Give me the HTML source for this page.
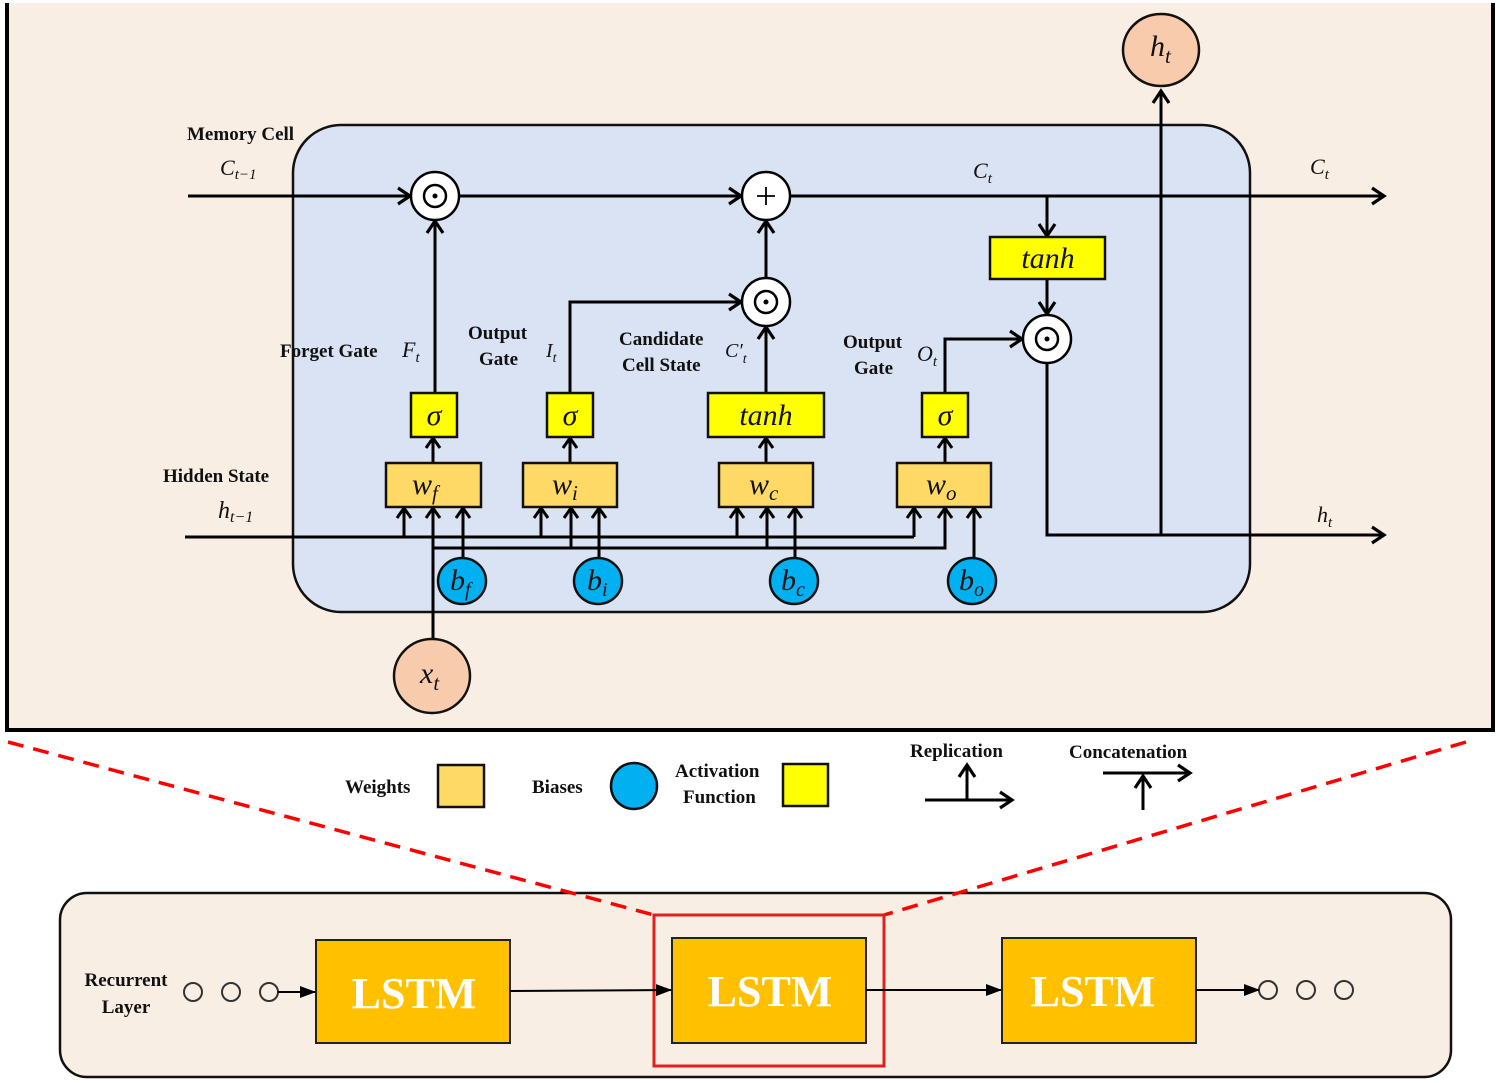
<!DOCTYPE html>
<html><head><meta charset="utf-8"><style>
html,body{margin:0;padding:0;background:#fff;}
svg{display:block;}
.b{font-family:"Liberation Serif",serif;font-weight:bold;font-size:19px;fill:#111;}
.m{font-family:"Liberation Serif",serif;font-style:italic;fill:#111;}
</style></head><body>
<svg width="1500" height="1083" viewBox="0 0 1500 1083" xmlns="http://www.w3.org/2000/svg">
<defs>
<marker id="a" markerWidth="18" markerHeight="20" refX="14" refY="10" orient="auto" markerUnits="userSpaceOnUse">
<path d="M2,2 L14,10 L2,18" fill="none" stroke="#000" stroke-width="3.2"/></marker>
<marker id="s" markerWidth="16" markerHeight="18" refX="12" refY="9" orient="auto" markerUnits="userSpaceOnUse">
<path d="M2,2 L12,9 L2,16" fill="none" stroke="#000" stroke-width="3"/></marker>
<marker id="f" markerWidth="16" markerHeight="14" refX="15" refY="7" orient="auto" markerUnits="userSpaceOnUse">
<path d="M0,1 L16,7 L0,13 Z" fill="#000"/></marker>
</defs>
<rect width="1500" height="1083" fill="#fff"/>
<!-- top panel -->
<rect x="7" y="3" width="1486" height="727" fill="#f9eee4"/>
<path d="M7,3 V730 H1493 V3" fill="none" stroke="#000" stroke-width="4"/>
<rect x="293" y="125" width="957" height="487" rx="48" fill="#dae3f3" stroke="#111" stroke-width="2.5"/>

<g stroke="#000" stroke-width="3" fill="none">
<line x1="188" y1="196" x2="410" y2="196" marker-end="url(#a)"/>
<line x1="459" y1="196" x2="741" y2="196" marker-end="url(#a)"/>
<line x1="790" y1="196" x2="1384" y2="196" marker-end="url(#a)"/>
<line x1="1047" y1="196" x2="1047" y2="236" marker-end="url(#a)"/>
<line x1="1047" y1="279" x2="1047" y2="314" marker-end="url(#a)"/>
<polyline points="1047,363 1047,535 1384,535" marker-end="url(#a)"/>
<line x1="1161" y1="535" x2="1161" y2="91" marker-end="url(#a)"/>
<line x1="435" y1="393" x2="435" y2="221" marker-end="url(#a)"/>
<polyline points="570,393 570,302 741,302" marker-end="url(#a)"/>
<line x1="766" y1="393" x2="766" y2="327" marker-end="url(#a)"/>
<line x1="766" y1="278" x2="766" y2="221" marker-end="url(#a)"/>
<polyline points="945,393 945,339 1022,339" marker-end="url(#a)"/>
<line x1="433" y1="463" x2="433" y2="438" marker-end="url(#s)"/>
<line x1="570" y1="463" x2="570" y2="438" marker-end="url(#s)"/>
<line x1="766" y1="463" x2="766" y2="438" marker-end="url(#s)"/>
<line x1="945" y1="463" x2="945" y2="438" marker-end="url(#s)"/>
<line x1="185" y1="537" x2="914" y2="537"/>
<line x1="404" y1="537" x2="404" y2="508" marker-end="url(#s)"/>
<line x1="541" y1="537" x2="541" y2="508" marker-end="url(#s)"/>
<line x1="737" y1="537" x2="737" y2="508" marker-end="url(#s)"/>
<line x1="914" y1="537" x2="914" y2="508" marker-end="url(#s)"/>
<line x1="433" y1="638" x2="433" y2="508" marker-end="url(#s)"/>
<polyline points="433,548 945,548 945,508" marker-end="url(#s)"/>
<line x1="571" y1="548" x2="571" y2="508" marker-end="url(#s)"/>
<line x1="767" y1="548" x2="767" y2="508" marker-end="url(#s)"/>
<line x1="463" y1="560" x2="463" y2="508" marker-end="url(#s)"/>
<line x1="599" y1="560" x2="599" y2="508" marker-end="url(#s)"/>
<line x1="795" y1="560" x2="795" y2="508" marker-end="url(#s)"/>
<line x1="974" y1="560" x2="974" y2="508" marker-end="url(#s)"/>
</g>

<g stroke="#000" stroke-width="2.5" fill="#fff">
<circle cx="435" cy="196" r="24"/><circle cx="435" cy="196" r="11"/>
<circle cx="766" cy="196" r="24"/>
<circle cx="766" cy="302" r="24"/><circle cx="766" cy="302" r="11"/>
<circle cx="1047" cy="339" r="24"/><circle cx="1047" cy="339" r="11"/>
</g>
<g fill="#000"><circle cx="435" cy="196" r="2.5"/><circle cx="766" cy="302" r="2.5"/><circle cx="1047" cy="339" r="2.5"/></g>
<path d="M766,187 V205 M757,196 H775" stroke="#000" stroke-width="1.8"/>

<g fill="#ffff00" stroke="#111" stroke-width="2.5">
<rect x="411" y="393" width="46" height="44"/>
<rect x="547" y="393" width="46" height="44"/>
<rect x="708" y="393" width="116" height="44"/>
<rect x="922" y="393" width="46" height="44"/>
<rect x="990" y="237" width="115" height="42"/>
</g>
<g class="m" font-size="30" text-anchor="middle">
<text x="434" y="425">σ</text><text x="570" y="425">σ</text><text x="766" y="425">tanh</text><text x="945" y="425">σ</text><text x="1048" y="268">tanh</text>
</g>
<g fill="#ffd966" stroke="#111" stroke-width="2.5">
<rect x="386" y="463" width="95" height="44"/>
<rect x="523" y="463" width="94" height="44"/>
<rect x="719" y="463" width="94" height="44"/>
<rect x="897" y="463" width="94" height="44"/>
</g>
<g class="m" font-size="30">
<text x="412" y="494">w<tspan font-size="21" dy="6">f</tspan></text>
<text x="552" y="494">w<tspan font-size="21" dy="6">i</tspan></text>
<text x="749" y="494">w<tspan font-size="21" dy="6">c</tspan></text>
<text x="926" y="494">w<tspan font-size="21" dy="6">o</tspan></text>
</g>
<g fill="#00b0f0" stroke="#111" stroke-width="2.5">
<ellipse cx="462" cy="581" rx="24" ry="23"/><ellipse cx="598" cy="581" rx="24" ry="23"/>
<ellipse cx="794" cy="581" rx="24" ry="23"/><ellipse cx="972" cy="581" rx="24" ry="23"/>
</g>
<g class="m" font-size="30">
<text x="450" y="590">b<tspan font-size="20" dy="6">f</tspan></text>
<text x="587" y="590">b<tspan font-size="20" dy="6">i</tspan></text>
<text x="781" y="590">b<tspan font-size="20" dy="6">c</tspan></text>
<text x="959" y="590">b<tspan font-size="20" dy="6">o</tspan></text>
</g>
<g fill="#f8cbad" stroke="#111" stroke-width="2.5">
<ellipse cx="432" cy="676" rx="38" ry="37"/><ellipse cx="1161" cy="50" rx="38" ry="36"/>
</g>
<g class="m" font-size="30">
<text x="420" y="683">x<tspan font-size="21" dy="7">t</tspan></text>
<text x="1150" y="56">h<tspan font-size="21" dy="7">t</tspan></text>
<text x="220" y="175" font-size="22">C<tspan font-size="15" dy="4">t−1</tspan></text>
<text x="218" y="518" font-size="24">h<tspan font-size="16" dy="4">t−1</tspan></text>
<text x="973" y="178" font-size="22">C<tspan font-size="15" dy="5">t</tspan></text>
<text x="1310" y="174" font-size="22">C<tspan font-size="15" dy="5">t</tspan></text>
<text x="1317" y="522" font-size="22">h<tspan font-size="15" dy="5">t</tspan></text>
<text x="402" y="357" font-size="22">F<tspan font-size="15" dy="5">t</tspan></text>
<text x="546" y="357" font-size="20">I<tspan font-size="14" dy="5">t</tspan></text>
<text x="725" y="357" font-size="20">C′<tspan font-size="14" dy="6">t</tspan></text>
<text x="917" y="361" font-size="22">O<tspan font-size="15" dy="5">t</tspan></text>
</g>
<g class="b">
<text x="187" y="140">Memory Cell</text>
<text x="163" y="482">Hidden State</text>
<text x="280" y="357">Forget Gate</text>
<text x="468" y="339">Output</text><text x="479" y="365">Gate</text>
<text x="619" y="345">Candidate</text><text x="622" y="371">Cell State</text>
<text x="843" y="348">Output</text><text x="854" y="374">Gate</text>
</g>

<g class="b">
<text x="345" y="793">Weights</text>
<text x="532" y="793">Biases</text>
<text x="675" y="777">Activation</text><text x="683" y="803">Function</text>
<text x="910" y="757">Replication</text>
<text x="1069" y="758">Concatenation</text>
</g>
<rect x="438" y="765" width="46" height="42" fill="#ffd966" stroke="#111" stroke-width="2.5"/>
<circle cx="634" cy="786" r="23" fill="#00b0f0" stroke="#111" stroke-width="2.5"/>
<rect x="783" y="764" width="45" height="42" fill="#ffff00" stroke="#111" stroke-width="2.5"/>
<g stroke="#000" stroke-width="3" fill="none">
<line x1="925" y1="800" x2="1012" y2="800" marker-end="url(#a)"/>
<line x1="967" y1="800" x2="967" y2="765" marker-end="url(#a)"/>
<line x1="1103" y1="773" x2="1190" y2="773" marker-end="url(#a)"/>
<line x1="1143" y1="810" x2="1143" y2="776" marker-end="url(#a)"/>
</g>

<!-- bottom panel -->
<rect x="60" y="893" width="1391" height="184" rx="27" fill="#f9eee4" stroke="#111" stroke-width="2.5"/>
<!-- red dashed -->
<g stroke="#ff0000" stroke-width="3.5" stroke-dasharray="16,10" fill="none">
<line x1="8" y1="742" x2="654" y2="915"/>
<line x1="1466" y1="742" x2="884" y2="915"/>
</g>
<rect x="654" y="915" width="230" height="151" fill="none" stroke="#e02020" stroke-width="3"/>
<g fill="#ffc000" stroke="#222" stroke-width="2">
<rect x="316" y="940" width="194" height="103"/>
<rect x="672" y="938" width="194" height="105"/>
<rect x="1002" y="938" width="194" height="105"/>
</g>
<g font-family="Liberation Serif,serif" font-weight="bold" font-size="44" fill="#fff" text-anchor="middle">
<text x="414" y="1008">LSTM</text><text x="770" y="1006">LSTM</text><text x="1093" y="1006">LSTM</text>
</g>
<g class="b" text-anchor="middle"><text x="126" y="986">Recurrent</text><text x="126" y="1013">Layer</text></g>
<g fill="none" stroke="#333" stroke-width="2">
<circle cx="193" cy="992" r="9"/><circle cx="231" cy="992" r="9"/><circle cx="269" cy="992" r="9"/>
<circle cx="1268" cy="990" r="9"/><circle cx="1306" cy="990" r="9"/><circle cx="1344" cy="990" r="9"/>
</g>
<g stroke="#000" stroke-width="2" fill="none">
<line x1="278" y1="992" x2="315" y2="992" marker-end="url(#f)"/>
<line x1="510" y1="991" x2="671" y2="990" marker-end="url(#f)"/>
<line x1="866" y1="990" x2="1001" y2="990" marker-end="url(#f)"/>
<line x1="1196" y1="990" x2="1259" y2="990" marker-end="url(#f)"/>
</g>
</svg>
</body></html>
